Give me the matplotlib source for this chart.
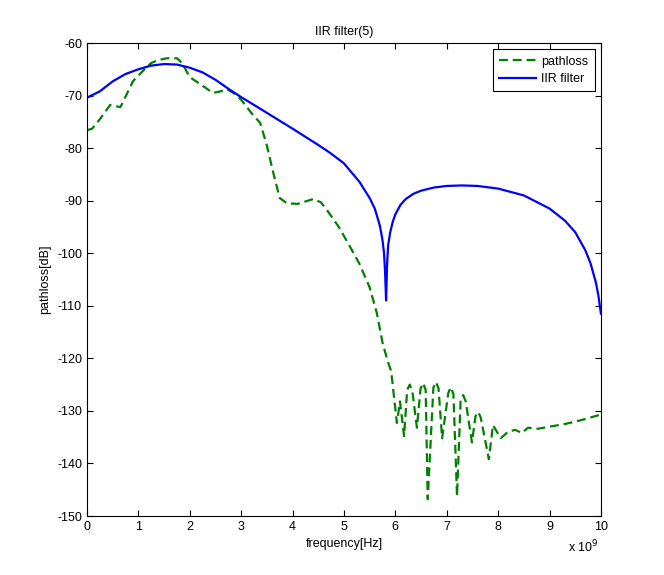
import numpy as np
import matplotlib
matplotlib.use("Agg")
import matplotlib.pyplot as plt

plt.rcParams['font.family'] = ['Liberation Sans', 'DejaVu Sans']
plt.rcParams['axes.unicode_minus'] = False

# IIR filter response (frequency in GHz, level in dB)
f_iir = [0, 0.25, 0.5, 0.75, 1.0, 1.25, 1.5, 1.75, 2.0, 2.25, 2.5, 2.78, 3.0, 3.37,
         3.75, 4.0, 4.5, 4.73, 5.0, 5.3, 5.5, 5.6, 5.7, 5.75, 5.78, 5.8, 5.82,
         5.84, 5.86, 5.9, 5.95, 6.0, 6.1, 6.2, 6.35, 6.5, 6.75, 7.0, 7.3, 7.6,
         8.0, 8.5, 9.0, 9.3, 9.5, 9.7, 9.8, 9.9, 9.95, 10.0]
iir_db = [-70.4, -69.2, -67.3, -65.9, -65.0, -64.3, -64.0, -64.1, -64.7, -65.6,
          -67.0, -68.9, -70.3, -72.5, -74.8, -76.3, -79.4, -80.9, -82.9, -86.4,
          -89.5, -91.5, -94.8, -97.5, -100.0, -103.5, -109.0, -102.0, -98.5,
          -96.0, -94.0, -92.6, -90.8, -89.7, -88.7, -88.1, -87.5, -87.2, -87.1,
          -87.2, -87.7, -89.0, -91.5, -93.8, -96.0, -99.5, -102.0, -105.5,
          -108.0, -111.5]

# measured pathloss
f_pl = [0, 0.1, 0.25, 0.45, 0.55, 0.65, 0.9, 1.1, 1.25, 1.4, 1.56, 1.75, 1.85,
        2.0, 2.2, 2.45, 2.6, 2.72, 2.85, 3.0, 3.23, 3.37, 3.5, 3.62, 3.75, 3.89,
        4.1, 4.4, 4.55, 4.67, 4.9, 5.12, 5.3, 5.5, 5.64, 5.75, 5.85, 5.92, 5.97,
        6.03, 6.09, 6.17, 6.23, 6.28, 6.33, 6.42, 6.49, 6.54, 6.59, 6.63, 6.74,
        6.79, 6.84, 6.91, 7.03, 7.08, 7.13, 7.2, 7.27, 7.32, 7.37, 7.49, 7.56,
        7.61, 7.66, 7.82, 7.9, 8.05, 8.19, 8.33, 8.46, 8.58, 8.77, 9.0, 9.3,
        9.6, 10.0]
pl_db = [-76.6, -76.3, -74.5, -71.8, -72.0, -72.2, -67.2, -65.2, -63.8, -63.2,
         -62.9, -62.9, -63.8, -66.5, -67.8, -69.5, -69.2, -68.8, -69.5, -70.8,
         -73.7, -75.2, -79.5, -84.5, -89.5, -90.5, -90.6, -89.7, -90.3, -91.8,
         -95.0, -98.8, -102.0, -106.5, -111.4, -117.0, -120.5, -122.5, -127.0,
         -132.3, -128.2, -134.8, -126.0, -125.0, -126.2, -133.2, -125.8, -124.7,
         -126.0, -146.8, -125.6, -124.5, -125.7, -135.2, -126.6, -125.5, -126.8,
         -146.2, -128.0, -127.0, -128.2, -136.0, -131.0, -130.2, -131.2, -139.2,
         -132.7, -135.2, -134.0, -133.6, -134.2, -133.2, -133.4, -133.0, -132.5,
         -131.8, -130.7]

fig = plt.figure(figsize=(6.64, 5.75), dpi=100)
ax = fig.add_axes([0.131, 0.1026, 0.774, 0.8226])

ax.plot(f_pl, pl_db, color=(0, 0.5, 0), lw=1.6, dashes=(4, 2.2), label='pathloss')
ax.plot(f_iir, iir_db, color=(0, 0, 1), lw=1.6, label='IIR filter')

ax.set_xlim(0, 10)
ax.set_ylim(-150, -60)
ax.set_xticks(np.arange(0, 11, 1))
ax.set_yticks(np.arange(-150, -59, 10))
ax.tick_params(direction='in', top=True, right=True, labelsize=9, length=4)
for s in ax.spines.values():
    s.set_linewidth(0.8)

ax.set_title('IIR filter(5)', fontsize=9)
ax.set_xlabel('frequency[Hz]', fontsize=9)
ax.set_ylabel('pathloss[dB]', fontsize=9)
ax.text(0.995, -0.048, r'x 10$^9$', transform=ax.transAxes, fontsize=9, ha='right', va='top')

leg = ax.legend(loc='upper right', fontsize=9, fancybox=False, edgecolor='black',
                framealpha=1, handlelength=3.0, borderpad=0.5, labelspacing=0.45,
                handletextpad=0.4, borderaxespad=0.5)
leg.get_frame().set_linewidth(0.8)

fig.savefig('out.png', dpi=100)
